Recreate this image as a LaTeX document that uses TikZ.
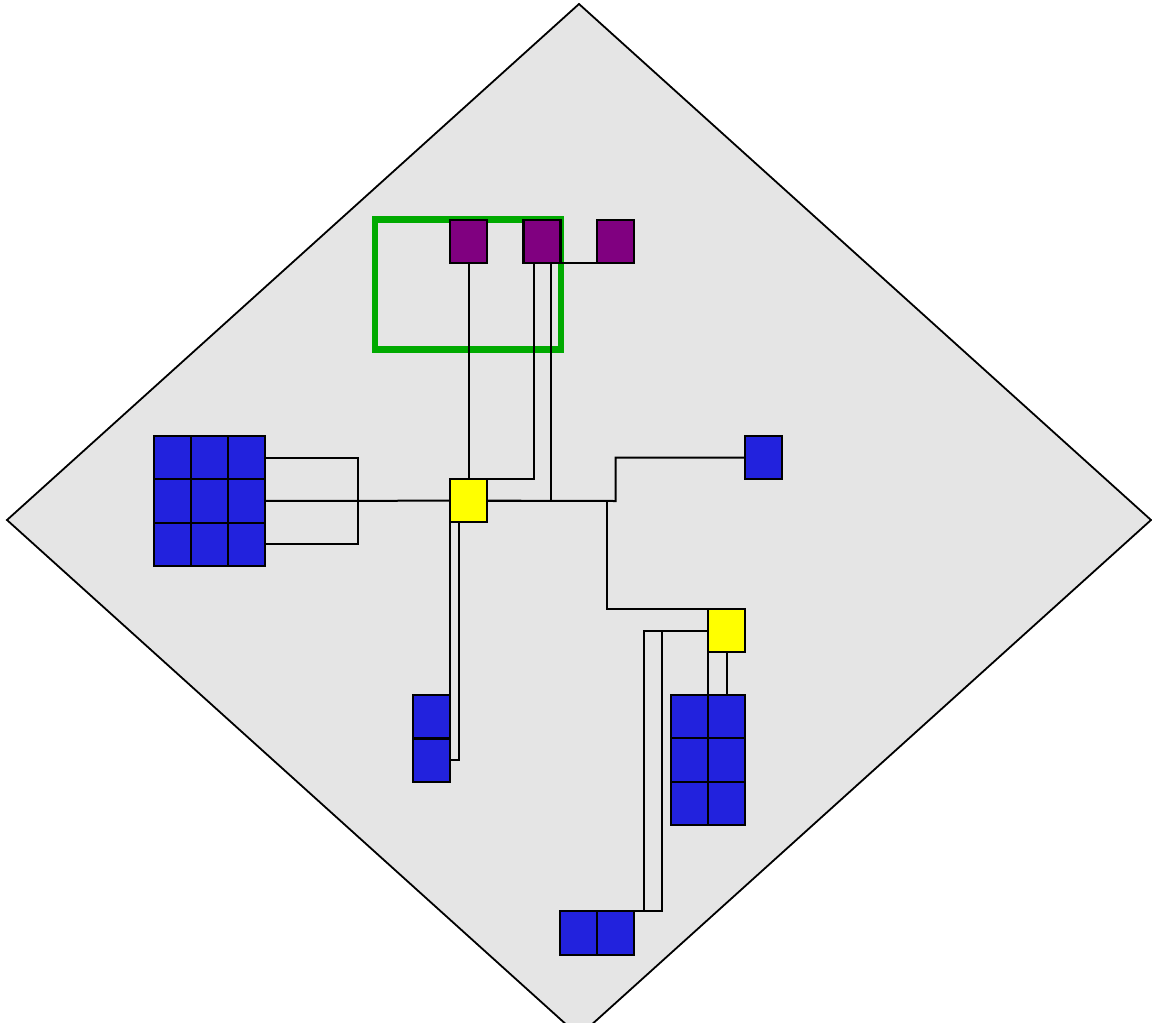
\documentclass[tikz,border=0pt]{standalone}
\definecolor{bg}{HTML}{E5E5E5}
\definecolor{pur}{HTML}{800080}
\definecolor{blu}{HTML}{2222DD}
\definecolor{yel}{HTML}{FFFF00}
\definecolor{grn}{HTML}{00AA00}
\begin{document}
\begin{tikzpicture}[x=1pt,y=-1pt,
  box/.style={draw=black,line width=2.2pt,inner sep=0pt,outer sep=0pt,anchor=north west,minimum width=37pt,minimum height=43.3pt},
  pbox/.style={box,fill=pur},
  bbox/.style={box,fill=blu},
  ybox/.style={box,fill=yel},
  wire/.style={draw=black,line width=2pt}]
\useasboundingbox (0,0) rectangle (1152,1023);
\clip (0,0) rectangle (1152,1023);
% board
\draw[fill=bg,line width=1.8pt] (579,4) -- (1151,520) -- (579,1036) -- (7,520) -- cycle;
% green frame
\draw[grn,line width=6.5pt] (375,219.5) rectangle (561,349.5);
% purple
\node[pbox] (p1) at (450,220) {};
\node[pbox] (p2) at (523.5,220) {};
\node[pbox] (p3) at (597,220) {};
% yellow
\node[ybox] (y1) at (450,479) {};
\node[ybox] (y2) at (708,609) {};
% blue single
\node[bbox] (b1) at (745,436) {};
% 3x3 grid
\foreach \i in {1,2,3}{\foreach \j in {1,2,3}{
  \node[bbox] (g\i\j) at ({154+37*(\j-1)},{436+43.33*(\i-1)}) {};}}
% 2x3 grid
\foreach \i in {1,2,3}{\foreach \j in {1,2}{
  \node[bbox] (r\i\j) at ({671+37*(\j-1)},{695+43.33*(\i-1)}) {};}}
% vertical pair
\node[bbox,minimum height=43.5pt] (v1) at (413,695) {};
\node[bbox,minimum height=43.5pt] (v2) at (413,738.5) {};
% horizontal pair
\node[bbox,minimum height=44pt] (h1) at (560,911) {};
\node[bbox,minimum height=44pt] (h2) at (597,911) {};
% junction coordinates
\coordinate (j1) at (615.5,501);
\coordinate (j2) at (606.5,501);
\coordinate (j3) at (357.5,501);
\coordinate (k4) at (643.5,0);
\coordinate (k5) at (662,0);
% connectors
\draw[wire] (p1.south) -- (y1.north);
\draw[wire] ([xshift=10pt]p2.south west) |- (y1.north east);
\draw[wire] ([xshift=-10pt]p2.south east) |- (y1.east);
\draw[wire] (p2.south east) -- (p3.south);
\draw[wire] (y1.east) -- (j1) |- (b1.west);
\draw[wire] (j2) |- (y2.north);
\draw[wire] (g13.east) -| (j3);
\draw[wire] (g33.east) -| (j3);
\draw[wire] (g23.east) -- (y1.west);
\draw[wire] (y1.south west) |- (v1.north);
\draw[wire] ([xshift=9pt]y1.south west) |- (v2.east);
\draw[wire] (y2.west) -- (y2.west -| k4) |- (h1.north);
\draw[wire] (y2.west) -- (y2.west -| k5) |- (h2.north);
\draw[wire] (y2.south west) |- (r11.north);
\draw[wire] (y2.south) -- (r12.north);
% redraw box outlines over wires
\foreach \n in {p1,p2,p3,y1,y2,b1,v1,v2,h1,h2,g11,g12,g13,g21,g22,g23,g31,g32,g33,r11,r12,r21,r22,r31,r32}{
  \draw[line width=2.2pt] (\n.north west) rectangle (\n.south east);}
\end{tikzpicture}
\end{document}
